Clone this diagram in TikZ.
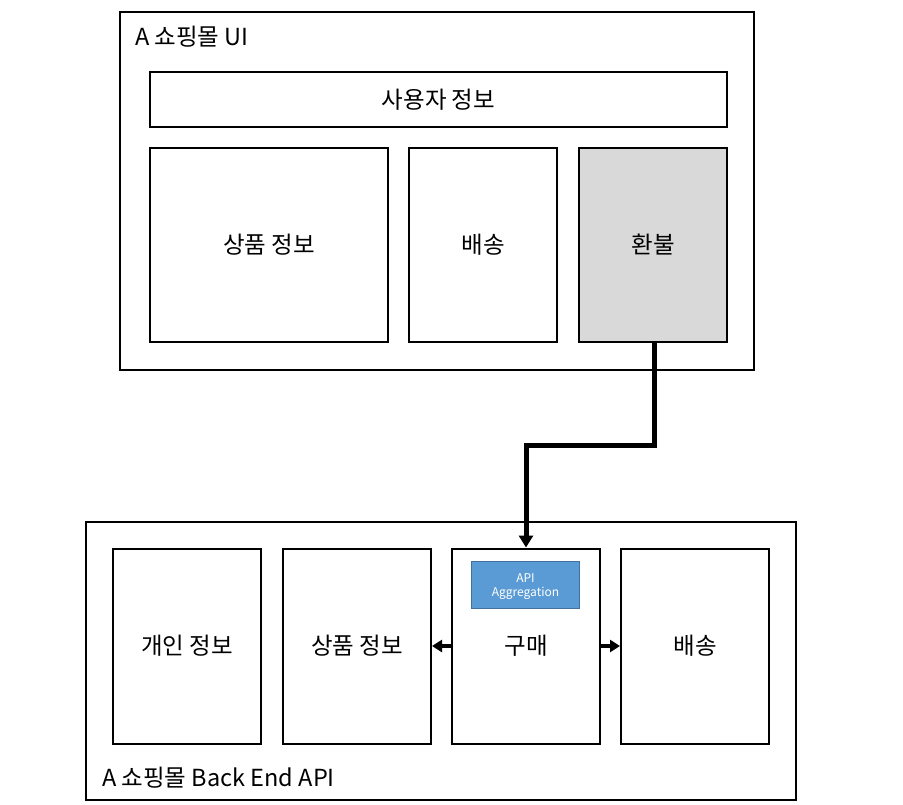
\documentclass[tikz,border=0pt]{standalone}
\usepackage{fontspec}
\setmainfont{Noto Sans CJK KR}
\usetikzlibrary{arrows.meta}
\definecolor{refgray}{HTML}{D9D9D9}
\definecolor{aggfill}{HTML}{5B9BD5}
\definecolor{aggdraw}{HTML}{41719C}
\begin{document}
\begin{tikzpicture}[x=1pt,y=-1pt,
  outerbox/.style={draw=black,line width=2pt,fill=white},
  innerbox/.style={draw=black,line width=2pt,fill=white,font=\fontsize{23.5}{28}\selectfont},
  titletext/.style={anchor=west,inner sep=0pt,font=\fontsize{23.5}{28}\selectfont},
  aggbox/.style={draw=aggdraw,line width=1.2pt,fill=aggfill,text=white,font=\fontsize{12}{14}\selectfont},
  aggtext/.style={text=white,inner sep=0pt,font=\fontsize{12}{14}\selectfont},
  thickarrow/.style={line width=5pt,-{Triangle[length=12pt,width=14pt]}},
  sidearrow/.style={line width=4pt,-{Triangle[length=10pt,width=12pt]}}
]
\useasboundingbox (0,0) rectangle (903,804);
% top UI
\path[outerbox] (120,12) rectangle (754,370);
\node[titletext] (uititle) at (135,37) {A 쇼핑몰 UI};
\path[innerbox] (150,72) rectangle (727,127) node[midway,draw=none,fill=none] (user) {사용자 정보};
\node[innerbox,minimum width=238pt,minimum height=194pt] (prod) at (269,245) {상품 정보};
\node[innerbox,minimum width=148pt,minimum height=194pt] (ship) at (483,245) {배송};
\node[innerbox,fill=refgray,minimum width=148pt,minimum height=194pt] (refund) at (653,245) {환불};
% bottom API
\path[outerbox] (86,522) rectangle (796,800);
\node[titletext] (apititle) at (102,778) {A 쇼핑몰 Back End API};
\node[innerbox,minimum width=148pt,minimum height=195pt] (personal) at (187,646) {개인 정보};
\node[innerbox,minimum width=148pt,minimum height=195pt] (bprod) at (357,646) {상품 정보};
\node[innerbox,minimum width=148pt,minimum height=195pt] (buy) at (526,646) {구매};
\node[innerbox,minimum width=148pt,minimum height=195pt] (bship) at (695,646) {배송};
\node[aggbox,minimum width=108pt,minimum height=47pt] (agg) at (525.5,585) {};
\node[aggtext] (aggl1) at (525.5,578) {API};
\node[aggtext] (aggl2) at (525.5,593) {Aggregation};
% connectors
\coordinate (c1) at (654,445);
\coordinate (c2) at (526,445);
\draw[thickarrow] (refund.south -| c1) -- (c1) -- (c2) -- (buy.north);
\draw[sidearrow] (buy.west) -- (bprod.east);
\draw[sidearrow] (buy.east) -- (bship.west);
\end{tikzpicture}
\end{document}
